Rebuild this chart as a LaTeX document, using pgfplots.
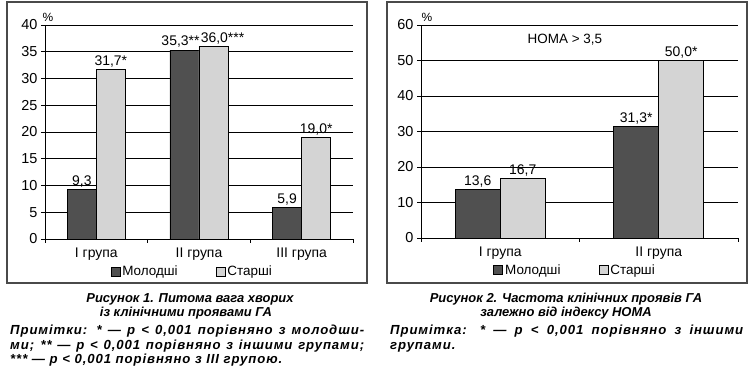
\documentclass[border=0pt]{standalone}
\usepackage{pgfplots}
\usepackage{pgfplotstable}
\pgfplotsset{compat=1.18}
\usepackage{fontspec}
\setmainfont{Liberation Sans}
\definecolor{darkbar}{HTML}{505050}
\definecolor{lightbar}{HTML}{D4D4D4}
\definecolor{framec}{HTML}{4A4A4A}

\pgfplotstableread{
x young yl old ol
0 9.3 9,3 31.7 31,7*
1 35.3 35,3**\kern8bp 36.0 \kern18bp36,0***
2 5.9 5,9 19.0 19,0*
}\leftdata

\pgfplotstableread{
x young yl old ol
0 13.6 13,6 16.7 16,7
1 31.3 31,3* 50.0 50,0*
}\rightdata

\pgfplotsset{
  mybars/.style={
    scale only axis,
    anchor=south west,
    ybar=0pt,
    axis x line*=bottom,
    axis y line*=left,
    ymajorgrids,
    grid style={black, line width=0.7bp},
    tick align=outside,
    major tick length=4bp,
    tick style={black, line width=0.7bp},
    axis line style={black, line width=0.8bp, -},
    x tick label as interval,
    /pgf/number format/assume math mode=true,
    yticklabel style={font=\fontsize{14.5}{16}\selectfont},
    xticklabel style={font=\fontsize{14}{16}\selectfont, yshift=-1.5bp},
    ymin=0,
    nodes near coords,
    point meta=explicit symbolic,
    nodes near coords style={font=\fontsize{14}{16}\selectfont, inner sep=2bp, black},
    legend columns=2,
    legend style={draw=none, fill=none, font=\fontsize{13.5}{15}\selectfont,
      /tikz/every even column/.append style={column sep=36bp},
      inner sep=0pt, anchor=center},
    every axis plot post/.append style={
      legend image code/.code={\draw[##1, line width=0.8bp] (0bp,-4.5bp) rectangle (9bp,4.5bp);}},
  },
  youngstyle/.style={draw=black, fill=darkbar, line width=0.8bp},
  oldstyle/.style={draw=black, fill=lightbar, line width=0.8bp},
}

\newfontfamily\notefont[LetterSpace=7]{Liberation Sans}

\begin{document}
\begin{tikzpicture}
\path (0bp,0bp) rectangle (755bp,377bp);
\draw[line width=1.3bp, framec] (7bp,94bp) rectangle (367bp,375bp);
\draw[line width=1.3bp, framec] (387bp,94bp) rectangle (747bp,375bp);

% Left chart
\begin{axis}[mybars,
  at={(45bp,138bp)},
  width=308bp, height=214bp,
  bar width=29bp,
  xmin=-0.5, xmax=2.5,
  xtick={-0.5,0.5,1.5,2.5},
  xticklabels={I група, II група, III група},
  ymax=40, ytick={0,5,...,40},
  legend style={at={(0.478,-0.152)}},
]
\addplot[youngstyle] table[x=x, y=young, meta=yl] {\leftdata};
\addplot[oldstyle] table[x=x, y=old, meta=ol] {\leftdata};
\legend{Молодші, Старші}
\end{axis}

% Right chart
\begin{axis}[mybars,
  at={(421bp,139bp)},
  width=317bp, height=213bp,
  bar width=45bp,
  xmin=-0.5, xmax=1.5,
  xtick={-0.5,0.5,1.5},
  xticklabels={I група, II група},
  ymax=60, ytick={0,10,...,60},
  legend style={at={(0.486,-0.152)}},
]
\addplot[youngstyle] table[x=x, y=young, meta=yl] {\rightdata};
\addplot[oldstyle] table[x=x, y=old, meta=ol] {\rightdata};
\legend{Молодші, Старші}
\node[font=\fontsize{13.5}{15}\selectfont] at (axis description cs:0.454,0.93) {HOMA > 3,5};
\end{axis}

% percent signs
\node[font=\fontsize{12}{14}\selectfont] at (48bp,360bp) {\%};
\node[font=\fontsize{12}{14}\selectfont] at (427bp,360bp) {\%};

% Captions
\begin{scope}[every node/.style={font=\fontsize{13}{16}\selectfont\bfseries\itshape, inner sep=0pt}]
\node[anchor=base] at (190bp,74.3bp) {Рисунок 1. Питома вага хворих};
\node[anchor=base] at (186bp,60.3bp) {із клінічними проявами ГА};
\node[anchor=base] at (566bp,74.3bp) {Рисунок 2. Частота клінічних проявів ГА};
\node[anchor=base] at (566bp,60.3bp) {залежно від індексу НОМА};
\end{scope}

\begin{scope}[every node/.style={font=\notefont\fontsize{13.2}{15}\selectfont\bfseries\itshape, inner sep=0pt}]
\node[anchor=base west] at (10bp,42.5bp) {\makebox[354bp][s]{Примітки: * — p < 0,001 порівняно з молодши-}};
\node[anchor=base west] at (10bp,27.8bp) {\makebox[354bp][s]{ми; ** — p < 0,001 порівняно з іншими групами;}};
\node[anchor=base west] at (10bp,13.5bp) {*** — p < 0,001 порівняно з III групою.};
\node[anchor=base west] at (390bp,42.5bp) {\makebox[353bp][s]{Примітка: * — p < 0,001 порівняно з іншими}};
\node[anchor=base west] at (390bp,27.8bp) {групами.};
\end{scope}
\end{tikzpicture}
\end{document}
